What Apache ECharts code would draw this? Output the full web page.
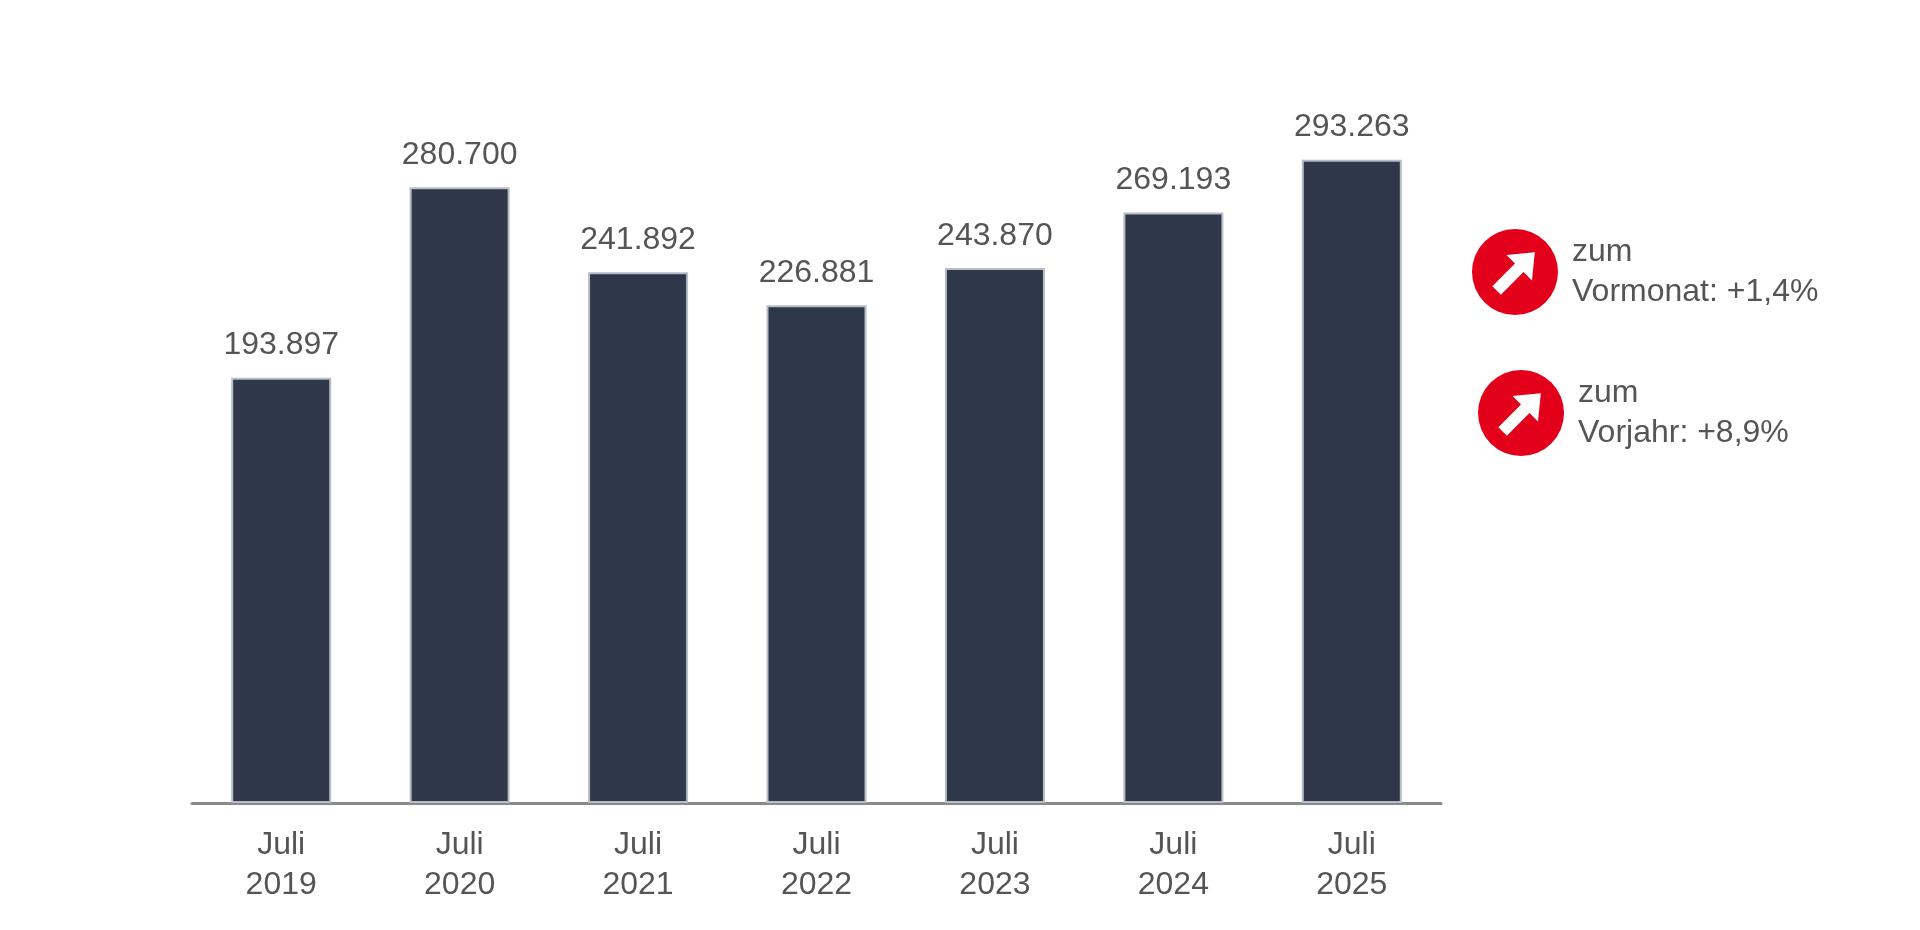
<!DOCTYPE html>
<html>
<head>
<meta charset="utf-8">
<script src="https://cdn.jsdelivr.net/npm/echarts@6/dist/echarts.min.js"></script>
<style>html,body{margin:0;background:#fff}#c{width:1920px;height:930px}</style>
</head>
<body>
<div id="c"></div>
<script>
var categories = ['Juli\n2019', 'Juli\n2020', 'Juli\n2021', 'Juli\n2022', 'Juli\n2023', 'Juli\n2024', 'Juli\n2025'];
var values = [193897, 280700, 241892, 226881, 243870, 269193, 293263];
var notes = [['zum', 'Vormonat: +1,4%'], ['zum', 'Vorjahr: +8,9%']];

var chart = echarts.init(document.getElementById('c'));

function fmt(v) {
  return String(v).replace(/\B(?=(\d{3})+(?!\d))/g, '.');
}

// red circle with white arrow
function badge(cx, cy, r) {
  return {
    type: 'group', x: cx, y: cy,
    children: [
      { type: 'circle', shape: { cx: 0, cy: 0, r: r }, style: { fill: '#e2001a' } },
      { type: 'polygon', rotation: -Math.PI / 4,
        shape: { points: [[-6, 26], [6, 26], [6, -6], [18, -6], [0, -28], [-18, -6], [-6, -6]] },
        style: { fill: '#fff' } }
    ]
  };
}

var graphic = [badge(1515, 272, 43), badge(1521, 413, 43)];
var ys = [272, 413];
var xs = [1572, 1578];
notes.forEach(function (n, i) {
  graphic.push({
    type: 'text', left: xs[i], top: ys[i] - 40,
    style: { text: n[0] + '\n' + n[1], font: '32px Arial, "Liberation Sans", sans-serif', fill: '#555', lineHeight: 40 }
  });
});

chart.setOption({
  animation: false,
  grid: { left: 192, right: 479, top: 101, bottom: 127 },
  xAxis: {
    type: 'category',
    data: categories,
    axisLine: { lineStyle: { color: '#8a8a8a', width: 3 } },
    axisTick: { show: false },
    axisLabel: { color: '#555', fontSize: 32, lineHeight: 40, margin: 22, fontFamily: 'Arial, "Liberation Sans", sans-serif' }
  },
  yAxis: { type: 'value', min: 0, max: 320000, show: false, splitLine: { show: false } },
  series: [{
    type: 'bar',
    data: values,
    barWidth: 100,
    itemStyle: { color: '#2f384a', borderColor: '#b8bcc4', borderWidth: 2 },
    label: {
      show: true, position: 'top', distance: 16,
      color: '#555', fontSize: 32, fontFamily: 'Arial, "Liberation Sans", sans-serif',
      formatter: function (p) { return fmt(p.value); }
    }
  }],
  graphic: graphic
});
</script>
</body>
</html>
